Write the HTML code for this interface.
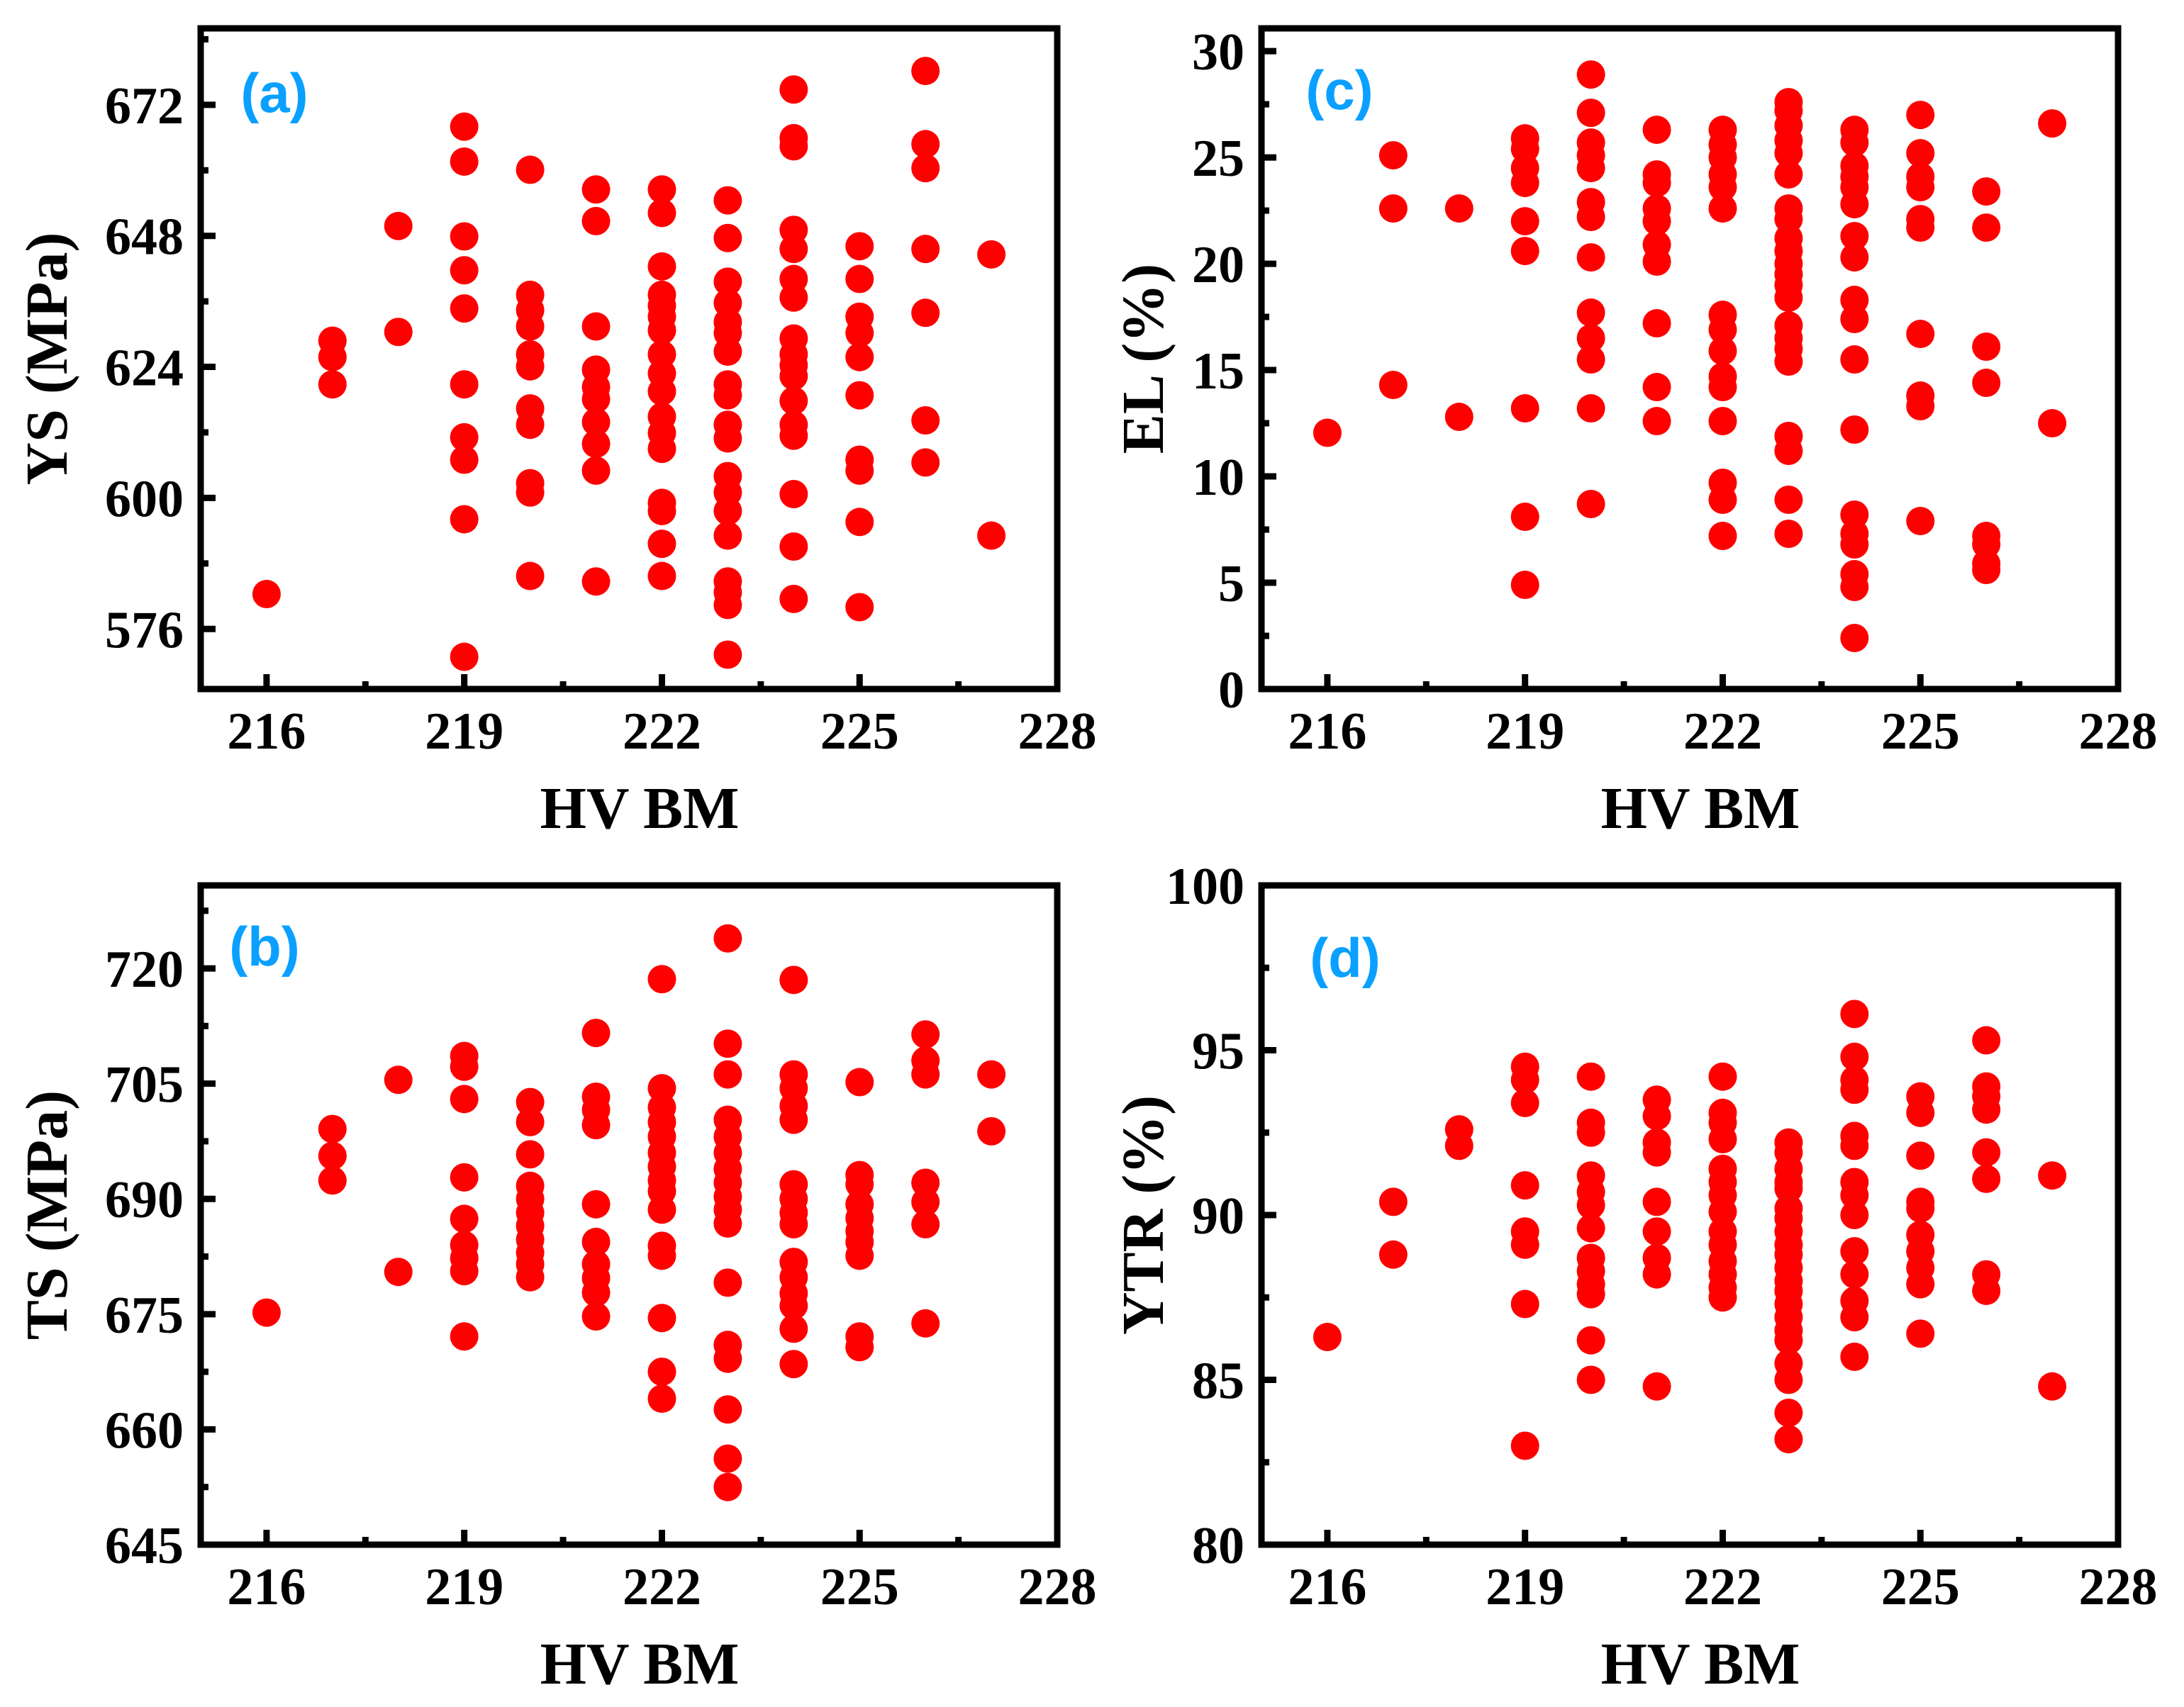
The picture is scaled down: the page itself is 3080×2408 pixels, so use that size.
<!DOCTYPE html>
<html><head><meta charset="utf-8">
<style>
html,body{margin:0;padding:0;background:#fff;}
svg{display:block;}
text{font-family:"Liberation Serif",serif;font-weight:bold;fill:#000;}
.pl{font-family:"Liberation Sans",sans-serif;fill:#0AA0FF;}
</style></head>
<body>
<svg id="fig" width="3080" height="2408" viewBox="0 0 3080 2408" xmlns="http://www.w3.org/2000/svg"></svg>
<script>
const hvCategories = [216,217,218,219,220,221,222,223,224,225,226,227];
const ysValues = [
 [582.4],
 [628.8,625.8,620.8],
 [649.8,630.4],
 [668.0,661.6,647.9,641.7,634.7,620.8,611.1,607.0,596.1,570.9],
 [660.1,637.2,634.4,631.4,626.3,624.1,616.4,613.4,602.7,601.0,585.7],
 [656.5,650.7,631.4,623.5,620.3,618.1,613.9,609.9,605.0,584.7],
 [656.5,652.2,642.4,637.2,635.2,633.2,630.7,626.3,622.8,619.5,614.9,611.9,609.0,599.1,597.6,591.6,585.7],
 [654.5,647.6,639.6,635.7,632.2,630.2,626.8,620.8,618.8,613.4,610.9,604.0,601.0,597.6,593.1,584.7,582.7,580.4,571.3],
 [674.8,665.9,664.4,649.1,645.6,640.1,636.7,629.2,626.3,624.3,622.3,617.8,613.4,611.4,600.7,591.1,581.5],
 [646.1,640.1,633.2,630.2,625.8,618.8,607.0,605.0,595.6,580.0],
 [678.2,664.8,660.4,645.6,633.9,614.2,606.5],
 [644.6,593.1]
];
const tsValues = [
 [675.2],
 [699.1,695.6,692.4],
 [705.5,680.5],
 [708.6,707.2,703.0,692.8,687.4,684.0,682.3,680.6,672.1],
 [702.6,700.0,695.8,691.7,690.0,688.2,686.5,684.7,683.0,681.5,679.8],
 [711.6,703.3,701.6,699.6,689.3,684.4,681.5,679.7,677.8,674.7],
 [718.6,704.4,701.9,700.0,698.1,696.0,694.2,692.4,691.0,688.6,683.9,682.6,674.5,667.5,664.0],
 [723.9,710.2,706.2,700.3,698.1,696.0,693.9,692.1,690.3,688.6,686.8,679.1,671.0,669.2,662.6,656.2,652.5],
 [718.5,706.2,704.4,702.1,700.3,691.9,690.0,688.2,686.7,681.8,679.8,677.7,676.1,673.1,668.5],
 [705.2,693.1,691.9,689.3,687.5,685.8,684.4,682.6,672.1,670.7],
 [711.4,708.0,706.2,692.1,689.6,686.7,673.8],
 [706.2,698.8]
];
const elValues = [
 [12.05],
 [25.1,22.6,14.3],
 [22.6,12.8],
 [25.9,25.4,24.5,23.8,22.0,20.6,13.2,8.1,4.9],
 [28.9,27.1,25.7,25.1,24.5,22.9,22.2,20.3,17.7,16.5,15.5,13.2,8.7],
 [26.3,24.2,23.8,22.6,22.0,20.9,20.1,17.2,14.2,12.6],
 [26.3,25.6,25.0,24.2,23.6,22.6,17.6,16.9,15.9,14.7,14.2,12.6,9.7,8.9,7.2],
 [27.6,27.2,26.5,25.8,25.2,24.2,22.6,22.1,21.2,20.6,20.0,19.5,19.0,18.4,17.1,16.5,16.0,15.4,11.9,11.2,8.9,7.3],
 [26.3,25.7,24.6,24.1,23.6,22.8,21.3,20.3,18.3,17.4,15.5,12.2,8.2,7.3,6.8,5.4,4.8,2.4],
 [27.0,25.2,24.1,23.6,22.1,21.7,16.7,13.8,13.3,7.9],
 [23.4,21.7,16.1,14.4,7.2,6.8,5.9,5.6],
 [26.6,12.5]
];
const ytrValues = [
 [86.3],
 [90.4,88.8],
 [92.6,92.1],
 [94.5,94.1,93.4,90.9,89.5,89.1,87.3,83.0],
 [94.2,92.8,92.5,91.2,90.7,90.3,89.6,88.7,88.3,87.9,87.6,86.2,85.0],
 [93.5,93.0,92.2,91.9,90.4,89.5,88.7,88.2,84.8],
 [94.2,93.1,92.8,92.3,91.4,91.0,90.6,90.1,89.5,89.1,88.6,88.2,87.8,87.5],
 [92.2,91.9,91.4,91.0,90.8,90.2,89.9,89.5,89.1,88.8,88.4,88.0,87.7,87.3,86.9,86.5,86.2,85.5,85.0,84.0,83.2],
 [96.1,94.8,94.1,93.8,92.4,92.1,91.0,90.6,90.0,88.9,88.2,87.4,86.9,85.7],
 [93.6,93.1,91.8,90.4,90.2,89.4,88.9,88.4,87.9,86.4],
 [95.3,93.9,93.6,93.2,91.9,91.1,88.2,87.7],
 [91.2,84.8]
];
const xTicks = [216,219,222,225,228];
const ysTicks = [576,600,624,648,672];
const tsTicks = [645,660,675,690,705,720];
const elTicks = [0,5,10,15,20,25,30];
const ytrTicks = [80,85,90,95,100];

const NS = "http://www.w3.org/2000/svg";
const svg = document.getElementById('fig');
function mk(tag, attrs, parent){
  const e = document.createElementNS(NS, tag);
  for (const k in attrs) e.setAttribute(k, attrs[k]);
  (parent||svg).appendChild(e);
  return e;
}
const panels = [
 {id:'a', label:'(a)', title:'YS (MPa)', data:ysValues, ticks:ysTicks, minor:12, y0:565, y1:686, L:283, R:1491, T:40, B:972, lx:387, ly:130, tx:66},
 {id:'c', label:'(c)', title:'EL (%)', data:elValues, ticks:elTicks, minor:2.5, y0:0, y1:31.07, L:1779, R:2987, T:40, B:972, lx:1889, ly:126, tx:1612},
 {id:'b', label:'(b)', title:'TS (MPa)', data:tsValues, ticks:tsTicks, minor:7.5, y0:645, y1:730.8, L:283, R:1491, T:1249, B:2179, lx:373, ly:1334, tx:66},
 {id:'d', label:'(d)', title:'YTR (%)', data:ytrValues, ticks:ytrTicks, minor:2.5, y0:80, y1:100, L:1779, R:2987, T:1249, B:2179, lx:1897, ly:1350, tx:1612}
];
panels.forEach(p=>{
  const g = mk('g', {});
  
  
  const xs = v => p.L + (v - 215) / 13 * (p.R - p.L);
  const ys = v => p.B - (v - p.y0) / (p.y1 - p.y0) * (p.B - p.T);
  const pg = mk('g', {}, g);
  
  
  hvCategories.forEach((hv, i)=>{
    p.data[i].forEach(v=>{
      const c = mk('ellipse', {cx:xs(hv), cy:ys(v), rx:20, ry:20, fill:'#FF0000'}, pg);
      
      
    });
  });
  const fr = mk('rect', {x:p.L, y:p.T, width:p.R-p.L, height:p.B-p.T, fill:'none', stroke:'#000', 'stroke-width':9}, g);
  
  
  xTicks.forEach(t=>{
    const x = xs(t);
    mk('line', {x1:x, x2:x, y1:p.B, y2:p.B-21, stroke:'#000', 'stroke-width':9}, g);
    const tl = mk('text', {x:x, y:p.B+84, 'font-size':74, 'text-anchor':'middle'}, g);
    tl.textContent = t;
    
    
    if (t + 1.5 < 228.1) {
      const m = xs(t + 1.5);
      mk('line', {x1:m, x2:m, y1:p.B, y2:p.B-11, stroke:'#000', 'stroke-width':9}, g);
    }
  });
  p.ticks.forEach(t=>{
    const y = ys(t);
    mk('line', {x1:p.L, x2:p.L+21, y1:y, y2:y, stroke:'#000', 'stroke-width':9}, g);
    const tl = mk('text', {x:p.L-24, y:y+26, 'font-size':74, 'text-anchor':'end'}, g);
    tl.textContent = t;
    
    
    const m = t + p.minor;
    if (m < p.y1) {
      const my = ys(m);
      mk('line', {x1:p.L, x2:p.L+11, y1:my, y2:my, stroke:'#000', 'stroke-width':9}, g);
    }
  });
  const xt = mk('text', {x:(p.L+p.R)/2+15, y:p.B+196, 'font-size':84, 'text-anchor':'middle'}, g);
  xt.textContent = 'HV BM';
  
  
  const cy = (p.T+p.B)/2;
  const yt = mk('text', {x:p.tx, y:cy, 'font-size':84, 'text-anchor':'middle', transform:'rotate(-90 '+p.tx+' '+cy+')', dy:28}, g);
  yt.textContent = p.title;
  
  
  const pl = mk('text', {x:p.lx, y:p.ly+28, 'font-size':78, 'text-anchor':'middle', class:'pl'}, g);
  pl.textContent = p.label;
  
  
});
</script>
</body></html>
